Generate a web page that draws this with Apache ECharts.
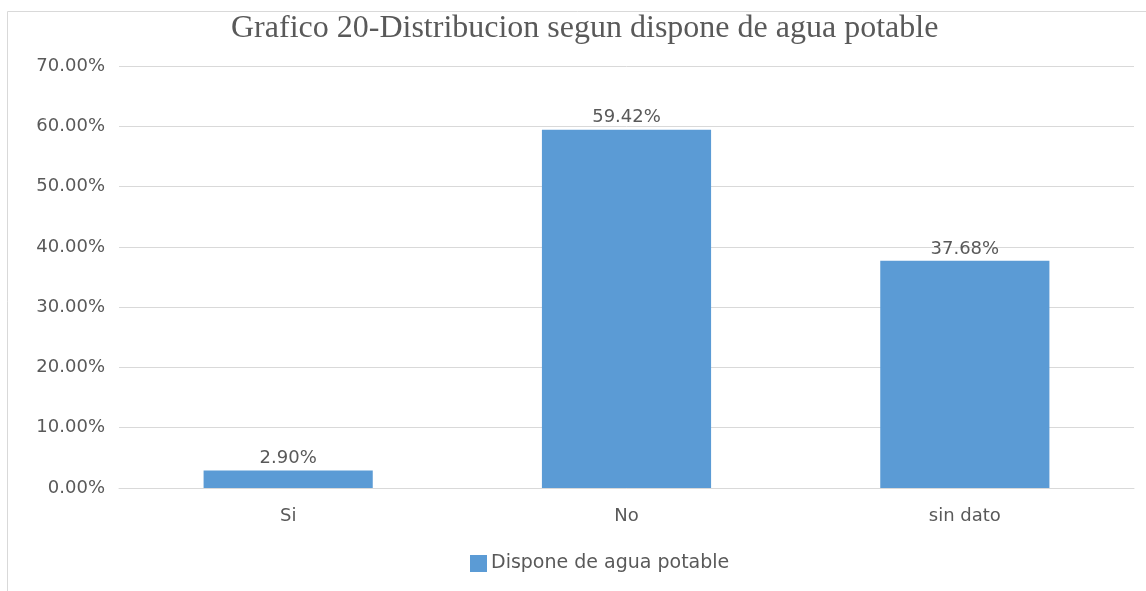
<!DOCTYPE html>
<html>
<head>
<meta charset="utf-8">
<script src="https://cdn.jsdelivr.net/npm/echarts@6/dist/echarts.min.js"></script>
<style>
html,body{margin:0;padding:0;background:#fff;}
#c{width:1146px;height:591px;}
</style>
</head>
<body>
<div id="c"></div>
<script>
const titleText = 'Grafico 20-Distribucion segun dispone de agua potable';
const categories = ['Si', 'No', 'sin dato'];
const seriesName = 'Dispone de agua potable';
const values = [2.90, 59.42, 37.68];
const yTicks = [0, 10, 20, 30, 40, 50, 60, 70];

const chart = echarts.init(document.getElementById('c'), null, {renderer: 'canvas'});
const txt = '#595959';
const sans = '"DejaVu Sans", "Noto Sans", sans-serif';
chart.setOption({
  animation: false,
  graphic: [{
    type: 'rect', z: -1,
    shape: {x: 7.5, y: 11.5, width: 1150, height: 590},
    style: {fill: 'none', stroke: '#d9d9d9', lineWidth: 1}
  }],
  title: {
    text: titleText, left: 226, top: 8,
    textStyle: {fontFamily: '"Liberation Serif", "DejaVu Serif", serif', fontSize: 32, fontWeight: 'normal', color: txt}
  },
  legend: {
    data: [seriesName], bottom: 13, left: 465,
    itemWidth: 17, itemHeight: 17, itemGap: 6,
    icon: 'rect',
    textStyle: {fontFamily: sans, fontSize: 19, color: txt, padding: [0,0,0,-1]}
  },
  grid: {left: 119, right: 12, top: 66, bottom: 103, containLabel: false},
  xAxis: {
    type: 'category', data: categories,
    axisLine: {lineStyle: {color: '#d9d9d9', width: 1}},
    axisTick: {show: false},
    axisLabel: {fontFamily: sans, fontSize: 18, color: txt, margin: 19}
  },
  yAxis: {
    type: 'value', min: yTicks[0], max: yTicks[yTicks.length-1], interval: 10,
    axisLine: {show: false}, axisTick: {show: false},
    splitLine: {lineStyle: {color: '#d9d9d9', width: 1}},
    axisLabel: {fontFamily: sans, fontSize: 18, color: txt, margin: 14,
      formatter: v => v.toFixed(2) + '%'}
  },
  series: [{
    name: seriesName, type: 'bar', data: values, barWidth: '50%',
    itemStyle: {color: '#5b9bd5'},
    label: {show: true, position: 'top', distance: 3, fontFamily: sans, fontSize: 18, color: txt,
      formatter: p => p.value.toFixed(2) + '%'}
  }]
});
</script>
</body>
</html>
